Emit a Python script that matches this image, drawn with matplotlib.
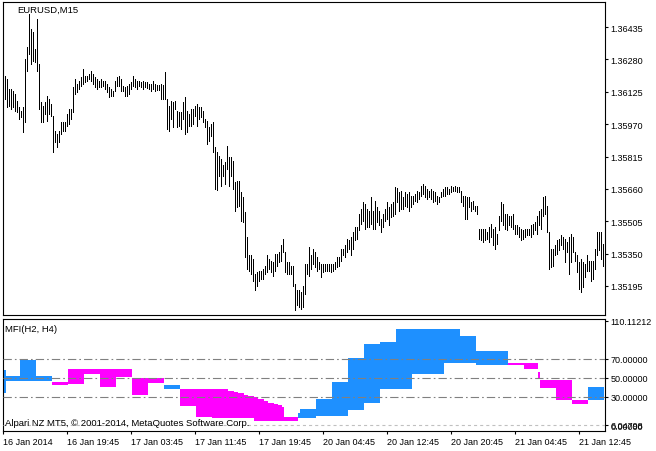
import matplotlib.pyplot as plt
import numpy as np

plt.rcParams['font.family'] = ['Liberation Sans', 'DejaVu Sans']
plt.rcParams['font.size'] = 6.5
plt.rcParams['lines.scale_dashes'] = False

# EURUSD M15 bar highs / lows, in points (1e-5)
highs_pt = [
    136202, 136186, 136138, 136138, 136130, 136115, 136082, 136051, 136035, 136051,
    136282, 136338, 136497, 136425, 136410, 136330, 136473, 136258, 136075, 136058,
    136075, 136106, 136091, 136067, 136011, 135939, 135923, 135939, 135979, 135982,
    135979, 136019, 136043, 136043, 136147, 136186, 136162, 136178, 136194, 136234,
    136202, 136202, 136210, 136226, 136210, 136194, 136186, 136178, 136186, 136178,
    136178, 136162, 136147, 136138, 136130, 136178, 136194, 136202, 136186, 136154,
    136147, 136154, 136162, 136170, 136202, 136186, 136178, 136178, 136170, 136178,
    136170, 136170, 136162, 136162, 136178, 136162, 136158, 136158, 136162, 136158,
    136218, 136091, 136058, 136082, 136075, 136082, 136035, 136027, 136027, 136075,
    136099, 136035, 136019, 136043, 136043, 136058, 136067, 136051, 136051, 136035,
    135995, 135987, 135955, 135971, 135979, 135861, 135836, 135819, 135804, 135772,
    135788, 135867, 135812, 135812, 135795, 135692, 135700, 135700, 135644, 135620,
    135549, 135429, 135341, 135344, 135325, 135253, 135261, 135269, 135269, 135277,
    135293, 135341, 135325, 135317, 135309, 135349, 135349, 135357, 135389, 135421,
    135357, 135309, 135309, 135293, 135293, 135206, 135174, 135174, 135166, 135197,
    135301, 135301, 135381, 135341, 135373, 135357, 135333, 135309, 135301, 135301,
    135301, 135301, 135301, 135301, 135301, 135309, 135333, 135333, 135373, 135373,
    135389, 135421, 135413, 135429, 135453, 135477, 135477, 135540, 135564, 135596,
    135588, 135564, 135556, 135620, 135556, 135604, 135573, 135556, 135517, 135540,
    135564, 135596, 135573, 135588, 135596, 135668, 135663, 135644, 135652, 135620,
    135644, 135636, 135644, 135628, 135628, 135636, 135652, 135644, 135676, 135684,
    135676, 135660, 135652, 135660, 135652, 135644, 135628, 135620, 135644, 135660,
    135668, 135668, 135660, 135676, 135668, 135676, 135668, 135668, 135652, 135628,
    135628, 135620, 135620, 135596, 135604, 135580, 135580, 135469, 135469, 135469,
    135469, 135453, 135477, 135493, 135469, 135477, 135445, 135532, 135596, 135588,
    135540, 135540, 135532, 135532, 135540, 135485, 135485, 135477, 135469, 135461,
    135469, 135469, 135469, 135485, 135493, 135501, 135532, 135556, 135564, 135620,
    135628, 135580, 135453, 135373, 135373, 135389, 135413, 135421, 135437, 135429,
    135421, 135405, 135429, 135445, 135429, 135357, 135341, 135309, 135325, 135309,
    135301, 135341, 135317, 135317, 135317, 135373, 135453, 135453, 135453, 135397,
]
lows_pt = [
    136091, 136051, 136058, 136043, 136051, 136035, 136027, 135995, 136003, 135931,
    135979, 136226, 136306, 136258, 136274, 136266, 136226, 136043, 135979, 135979,
    136019, 135987, 136019, 136011, 135836, 135884, 135860, 135884, 135923, 135939,
    135939, 135963, 135971, 135995, 136027, 136115, 136123, 136138, 136154, 136162,
    136170, 136178, 136186, 136178, 136162, 136147, 136138, 136147, 136147, 136154,
    136138, 136123, 136099, 136106, 136106, 136130, 136154, 136154, 136130, 136130,
    136106, 136106, 136115, 136138, 136154, 136147, 136138, 136151, 136147, 136138,
    136147, 136142, 136138, 136130, 136138, 136130, 136135, 136135, 136091, 136091,
    136091, 135947, 135939, 135995, 135955, 136043, 135955, 135963, 135947, 135995,
    135923, 135931, 135963, 135963, 135971, 136011, 135963, 135995, 136003, 135979,
    135955, 135875, 135891, 135915, 135836, 135660, 135657, 135724, 135676, 135724,
    135684, 135756, 135676, 135724, 135660, 135556, 135573, 135580, 135508, 135501,
    135333, 135277, 135269, 135253, 135221, 135174, 135197, 135221, 135229, 135229,
    135253, 135261, 135277, 135261, 135245, 135269, 135293, 135309, 135317, 135357,
    135261, 135253, 135253, 135253, 135197, 135078, 135102, 135094, 135086, 135094,
    135158, 135253, 135245, 135277, 135301, 135285, 135269, 135277, 135238, 135261,
    135269, 135269, 135269, 135261, 135269, 135277, 135285, 135293, 135317, 135341,
    135333, 135357, 135373, 135341, 135373, 135413, 135421, 135461, 135493, 135508,
    135469, 135477, 135477, 135493, 135469, 135469, 135501, 135485, 135453, 135477,
    135508, 135517, 135485, 135525, 135532, 135540, 135596, 135556, 135564, 135564,
    135580, 135573, 135556, 135573, 135588, 135604, 135596, 135612, 135628, 135636,
    135620, 135612, 135620, 135612, 135596, 135604, 135588, 135596, 135620, 135628,
    135628, 135636, 135636, 135644, 135652, 135652, 135644, 135644, 135596, 135580,
    135517, 135517, 135573, 135556, 135564, 135556, 135540, 135421, 135413, 135408,
    135413, 135421, 135405, 135429, 135389, 135373, 135397, 135461, 135508, 135485,
    135469, 135461, 135485, 135477, 135469, 135445, 135445, 135429, 135413, 135421,
    135429, 135437, 135437, 135429, 135445, 135461, 135445, 135485, 135469, 135532,
    135540, 135453, 135277, 135285, 135293, 135341, 135349, 135365, 135389, 135373,
    135309, 135357, 135253, 135309, 135357, 135317, 135261, 135182, 135166, 135190,
    135238, 135269, 135269, 135221, 135229, 135277, 135341, 135365, 135325, 135293,
]

# MFI on H2 and H4, as runs of M15 bars
mfi_len = [1, 7, 8, 8, 8, 8, 8, 8, 8, 8, 8, 8, 8, 8, 8,
           3, 2, 3, 2, 3, 2, 3, 2, 3, 2, 2, 1, 7, 1,
           8, 8, 8, 8, 8, 8, 8, 16, 8, 8, 16, 8, 7, 1, 8, 8, 8, 8]
mfi_h2 = [58.2, 51.4, 68.5, 51.4, 42.3, 43.7, 53.6, 40.2, 50.5, 32.1, 44.4, 42.3, 19.9, 8.6, 7.6,
          7.6, 7.6, 7.6, 7.6, 7.6, 4.4, 4.4, 4.4, 4.4, 4.4, 4.4, 4.4, 4.4, 13.2,
          16.9, 27.9, 45.5, 70.7, 85.8, 87.6, 100.9, 100.9, 100.9, 93.4, 77.6, 63.6, 59.4, 48.7,
          39.5, 26.8, 22.6, 40.2]
mfi_h4 = [34.4, 46.1, 46.1, 46.1, 45.0, 58.8, 58.8, 58.8, 58.8, 50.0, 50.0, 38.4, 37.8, 37.8, 37.8,
          35.7, 34.6, 33.6, 32.1, 30.7, 29.4, 27.3, 25.2, 23.4, 22.3, 20.9, 18.8, 8.6, 7.9,
          7.9, 9.4, 9.4, 16.3, 23.4, 38.4, 38.4, 53.6, 65.1, 65.1, 63.6, 65.8, 65.8, 55.5,
          47.9, 47.9, 26.2, 26.8]

price_ticks = [1.36435, 1.36280, 1.36125, 1.35970, 1.35815, 1.35660, 1.35505, 1.35350, 1.35195]
mfi_ticks = [110.11212, 70.0, 50.0, 30.0, 0.0]
mfi_min_label = '6.04798'
mfi_levels = [70, 50, 30]
time_labels = ['16 Jan 2014', '16 Jan 19:45', '17 Jan 03:45', '17 Jan 11:45', '17 Jan 19:45',
               '20 Jan 04:45', '20 Jan 12:45', '20 Jan 20:45', '21 Jan 04:45', '21 Jan 12:45']

W, H = 656, 452
fig = plt.figure(figsize=(W / 100, H / 100), dpi=100)


def px_axes(x0, y0, x1, y1):
    return fig.add_axes([x0 / W, 1 - y1 / H, (x1 - x0) / W, (y1 - y0) / H])


ax1 = px_axes(3, 3, 605, 316)
ax2 = px_axes(3, 320, 605, 432)

n = len(highs_pt)
idx = np.arange(n)
ax1.vlines(idx, np.array(lows_pt) / 1e5, np.array(highs_pt) / 1e5,
           color='black', lw=0.5, antialiased=False)
ax1.set_xlim(-0.75, n + 0.25)
ax1.set_ylim(1.35056, 1.36555)

start = 0
for L, a, b in zip(mfi_len, mfi_h2, mfi_h4):
    col = '#1E90FF' if a >= b else '#FF00FF'
    ax2.fill_between([start - 0.5, start + L - 0.5], min(a, b), max(a, b),
                     color=col, lw=0, antialiased=False, zorder=2)
    start += L
for lv in mfi_levels:
    ax2.axhline(lv, color='#808080', lw=0.8, ls=(0, (6, 2.2, 1.2, 2.2)), zorder=3)
ax2.axhline(0, color='#c0c0c0', lw=0.8, ls=(0, (2.2, 2.2)), zorder=3)
ax2.set_xlim(-0.75, n + 0.25)
ax2.set_ylim(-6.1, 111.8)

for ax in (ax1, ax2):
    ax.yaxis.tick_right()
    ax.tick_params(axis='y', direction='out', length=2.5, width=0.8, pad=1.5,
                   labelsize=6.5, colors='black')
    for s in ax.spines.values():
        s.set_linewidth(0.8)
        s.set_color('black')

ax1.set_xticks([])
ax1.set_yticks(price_ticks, [f'{v:.5f}' for v in price_ticks])
ax2.set_yticks(mfi_ticks, [f'{v:.5f}' for v in mfi_ticks])
# MT5 prints the window minimum on top of the zero label
ax2.text(1 + 5 / 602, 0, mfi_min_label, transform=ax2.get_yaxis_transform(),
         fontsize=6.5, va='center', ha='left', clip_on=False)

tick_pos = [32 * k - 0.75 for k in range(len(time_labels))]
ax2.set_xticks(tick_pos, time_labels)
ax2.tick_params(axis='x', direction='out', length=2.5, width=0.8, pad=2, labelsize=6.5)
for lbl in ax2.get_xticklabels():
    lbl.set_horizontalalignment('left')

fig.text(17 / W, 1 - 10 / H, 'EURUSD,M15', fontsize=6.8, va='center', ha='left')
fig.text(5 / W, 1 - 330 / H, 'MFI(H2, H4)', fontsize=6.8, va='center', ha='left')
fig.text(5 / W, 1 - 424 / H, 'Alpari NZ MT5, \u00a9 2001-2014, MetaQuotes Software Corp.',
         fontsize=6.8, va='center', ha='left', zorder=5)

fig.savefig('out.png', dpi=100)
